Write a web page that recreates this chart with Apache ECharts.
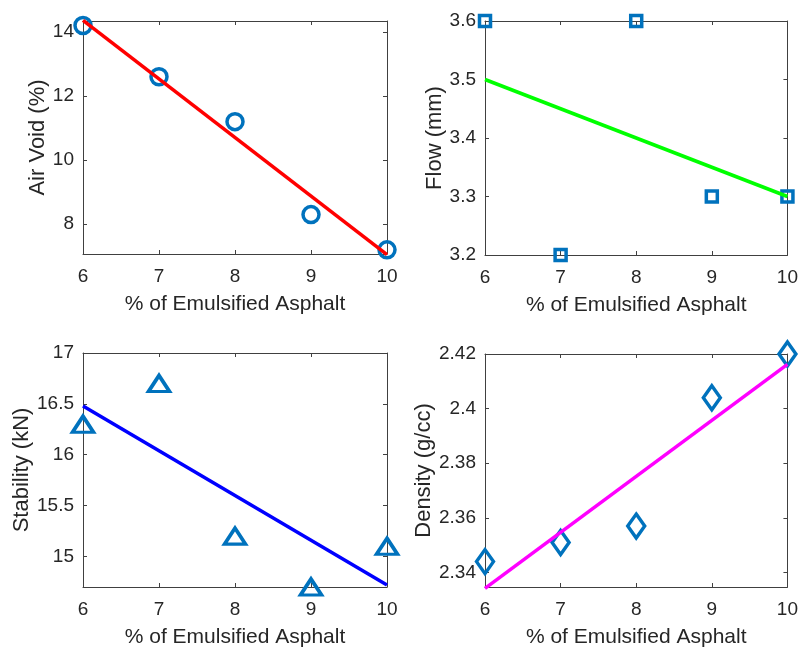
<!DOCTYPE html>
<html>
<head>
<meta charset="utf-8">
<script src="https://cdn.jsdelivr.net/npm/echarts@6/dist/echarts.min.js"></script>
<style>
  html, body { margin: 0; padding: 0; background: #fff; }
  #main { width: 801px; height: 651px; }
</style>
</head>
<body>
<div id="main"></div>
<script>
// x values shared by the four panels
var xVals = [6, 7, 8, 9, 10];

// measured points
var airVoid = [14.2, 12.6, 11.2, 8.3, 7.2];
var flow = [3.6, 3.2, 3.6, 3.3, 3.3];
var stability = [16.3, 16.7, 15.2, 14.7, 15.1];
var density = [2.344, 2.351, 2.357, 2.404, 2.42];

// fitted lines, value at x = 6 and x = 10
var fitX = [6, 10];
var airVoidFit = [14.36, 7.05];
var flowFit = [3.5, 3.3];
var stabilityFit = [16.48, 14.72];
var densityFit = [2.3342, 2.4162];

// y ranges and ticks
var airVoidRange = [7.07, 14.34];
var airVoidTicks = [8, 10, 12, 14];
var flowRange = [3.2, 3.6];
var flowTicks = [3.2, 3.3, 3.4, 3.5, 3.6];
var stabilityRange = [14.7, 17];
var stabilityTicks = [15, 15.5, 16, 16.5, 17];
var densityRange = [2.3347, 2.42];
var densityTicks = [2.34, 2.36, 2.38, 2.4, 2.42];

var blue = '#0072BD';
var axisColor = '#404040';
var textColor = '#262626';
var font = "'Liberation Sans', Arial, Helvetica, sans-serif";

var panels = [
    { grid: { left: 83, top: 21, width: 304, height: 233 }, y: airVoid, fit: airVoidFit, range: airVoidRange, ticks: airVoidTicks,
      name: 'Air Void (%)', gap: 30, symbol: 'circle', size: 16, line: '#ff0000' },
    { grid: { left: 485, top: 21, width: 306, height: 234 }, y: flow, fit: flowFit, range: flowRange, ticks: flowTicks,
      name: 'Flow (mm)', gap: 37, symbol: 'rect', size: 11, line: '#00ff00' },
    { grid: { left: 83, top: 353, width: 304, height: 234 }, y: stability, fit: stabilityFit, range: stabilityRange, ticks: stabilityTicks,
      name: 'Stability (kN)', gap: 49, symbol: 'triangle', size: [21, 16], line: '#0000ff' },
    { grid: { left: 485, top: 354, width: 306, height: 233 }, y: density, fit: densityFit, range: densityRange, ticks: densityTicks,
      name: 'Density (g/cc)', gap: 48, symbol: 'diamond', size: [17, 24], line: '#ff00ff' }
];

var grids = [], xAxes = [], yAxes = [], series = [];

panels.forEach(function (p, i) {
    grids.push(p.grid);
    var lineStyle = { color: axisColor, width: 1 };
    // bottom / left axes with labels
    xAxes.push({
        type: 'value', gridIndex: i, position: 'bottom', min: 6, max: 10, interval: 1,
        name: '% of Emulsified Asphalt', nameLocation: 'middle', nameGap: 40,
        nameTextStyle: { fontFamily: font, fontSize: 21, color: textColor },
        axisLine: { show: true, onZero: false, lineStyle: lineStyle },
        axisTick: { show: true, inside: true, length: 4, lineStyle: lineStyle },
        axisLabel: { fontFamily: font, fontSize: 19, color: textColor, margin: 13, showMinLabel: true, showMaxLabel: true },
        splitLine: { show: false }
    });
    // top axis, just for the box and ticks
    xAxes.push({
        type: 'value', gridIndex: i, position: 'top', min: 6, max: 10, interval: 1,
        axisLine: { show: true, onZero: false, lineStyle: lineStyle },
        axisTick: { show: true, inside: true, length: 4, lineStyle: lineStyle },
        axisLabel: { show: false },
        splitLine: { show: false }
    });
    yAxes.push({
        type: 'value', gridIndex: i, position: 'left', min: p.range[0], max: p.range[1],
        name: p.name, nameLocation: 'middle', nameGap: p.gap,
        nameTextStyle: { fontFamily: font, fontSize: 22, color: textColor },
        axisLine: { show: true, onZero: false, lineStyle: lineStyle },
        axisTick: { show: true, inside: true, length: 4, lineStyle: lineStyle, customValues: p.ticks },
        axisLabel: { fontFamily: font, fontSize: 19, color: textColor, margin: 9, customValues: p.ticks },
        splitLine: { show: false }
    });
    yAxes.push({
        type: 'value', gridIndex: i, position: 'right', min: p.range[0], max: p.range[1],
        axisLine: { show: true, onZero: false, lineStyle: lineStyle },
        axisTick: { show: true, inside: true, length: 4, lineStyle: lineStyle, customValues: p.ticks },
        axisLabel: { show: false, customValues: p.ticks },
        splitLine: { show: false }
    });

    var pts = [];
    for (var k = 0; k < xVals.length; k++) {
        pts.push([xVals[k], p.y[k]]);
    }
    series.push({
        type: 'scatter', xAxisIndex: 2 * i, yAxisIndex: 2 * i, data: pts,
        symbol: p.symbol, symbolSize: p.size, clip: false, z: 2,
        itemStyle: { color: 'rgba(0,0,0,0)', borderColor: blue, borderWidth: 3.5, opacity: 1 },
        emphasis: { disabled: true }
    });
    series.push({
        type: 'line', xAxisIndex: 2 * i, yAxisIndex: 2 * i,
        data: [[fitX[0], p.fit[0]], [fitX[1], p.fit[1]]],
        symbol: 'none', clip: false, z: 3,
        lineStyle: { color: p.line, width: 3.5 },
        emphasis: { disabled: true }
    });
});

var myChart = echarts.init(document.getElementById('main'));
myChart.setOption({
    animation: false,
    backgroundColor: '#ffffff',
    grid: grids,
    xAxis: xAxes,
    yAxis: yAxes,
    series: series
});
</script>
</body>
</html>
